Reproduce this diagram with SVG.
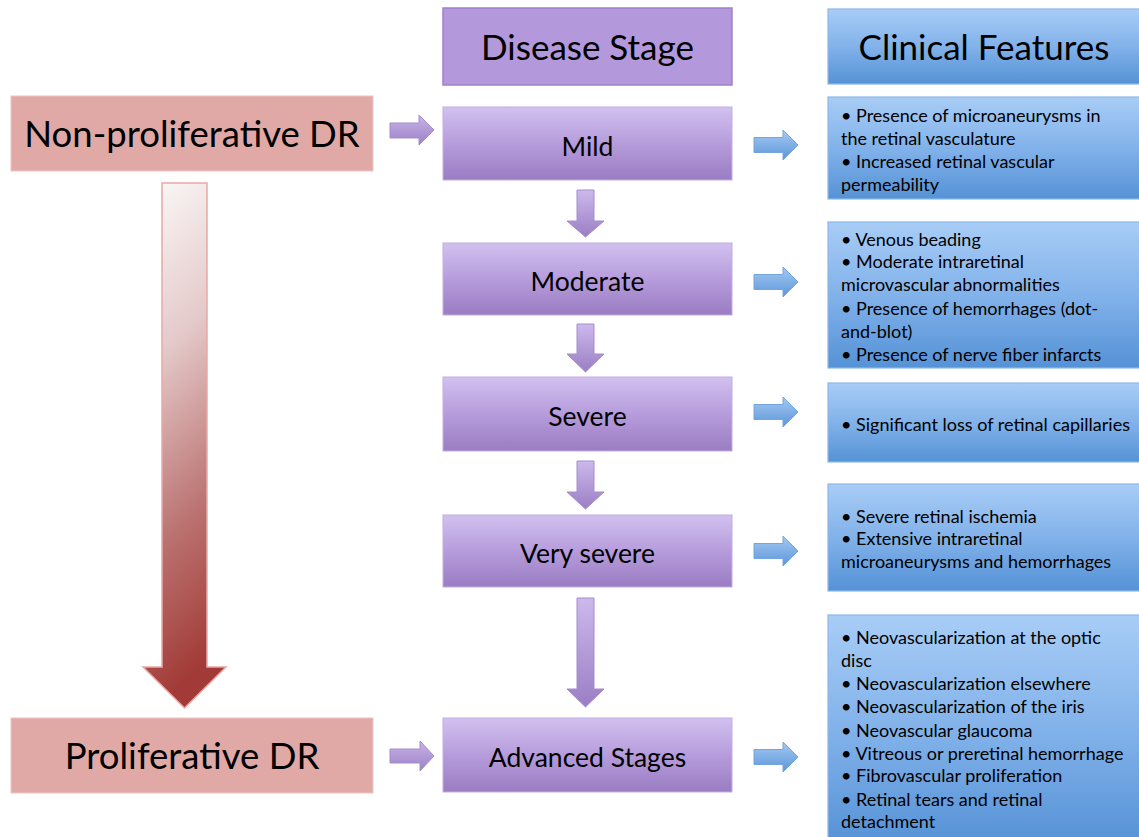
<svg xmlns="http://www.w3.org/2000/svg" width="1139" height="837" viewBox="0 0 1139 837">
<defs>
  <linearGradient id="gStage" x1="0" y1="0" x2="0" y2="1">
    <stop offset="0" stop-color="#D2C1EF"/>
    <stop offset="0.5" stop-color="#B69CDC"/>
    <stop offset="1" stop-color="#9A7CC2"/>
  </linearGradient>
  <linearGradient id="gBlue" x1="0" y1="0" x2="0" y2="1">
    <stop offset="0" stop-color="#A8CDF6"/>
    <stop offset="0.5" stop-color="#82B2EA"/>
    <stop offset="1" stop-color="#5592D6"/>
  </linearGradient>
  <linearGradient id="gPArrow" x1="0" y1="0" x2="0" y2="1">
    <stop offset="0" stop-color="#CDB9EC"/>
    <stop offset="1" stop-color="#9A7EC4"/>
  </linearGradient>
  <linearGradient id="gPArrowH" x1="0" y1="0" x2="0" y2="1">
    <stop offset="0" stop-color="#C8B3E8"/>
    <stop offset="1" stop-color="#9C80C6"/>
  </linearGradient>
  <linearGradient id="gBArrow" x1="0" y1="0" x2="0" y2="1">
    <stop offset="0" stop-color="#A5C9F3"/>
    <stop offset="1" stop-color="#5C96D9"/>
  </linearGradient>
  <linearGradient id="gBig" x1="0" y1="0" x2="0.15" y2="1">
    <stop offset="0" stop-color="#FCFAFA"/>
    <stop offset="0.35" stop-color="#E4C9C9"/>
    <stop offset="0.7" stop-color="#BB7472"/>
    <stop offset="1" stop-color="#A23B37"/>
  </linearGradient>
  <style>
    .pink{fill:#E0A9A6;stroke:#EDC4C2;stroke-width:1}
    .stage{fill:url(#gStage);stroke:#C2AEE3;stroke-width:1}
    .stagehdr{fill:#B398DB;stroke:#A27FCB;stroke-width:1.5}
    .clin{fill:url(#gBlue);stroke:#8DB7E9;stroke-width:1.2}
    .parrow{fill:url(#gPArrow);stroke:#A58DCB;stroke-width:1}
    .parrowh{fill:url(#gPArrowH);stroke:#A58DCB;stroke-width:1}
    .barrow{fill:url(#gBArrow);stroke:#74A5DC;stroke-width:1}
    text{font-family:Lato,"Liberation Sans",sans-serif;fill:#000}
    .big{font-size:36.5px}
    .hdr{font-size:35px}
    .st{font-size:26.5px}
    .cf{font-size:18px}
  </style>
</defs>

<g id="connectors">
  <path id="bigArrow" d="M162,183 H207 V667 H226 L184.5,708 L143,667 H162 Z" fill="url(#gBig)" stroke="#E7A9A7" stroke-width="1.5"/>
  <path class="parrowh" d="M390,123 H419 V115 L434,130 L419,145 V138 H390 Z"/>
  <path class="parrowh" d="M390,749 H420 V741 L434,756 L420,771 V763 H390 Z"/>
  <path class="parrow" d="M577,190 H594 V221 H604 L585.5,237 L567,221 H577 Z"/>
  <path class="parrow" d="M577,324 H594 V354 H604 L585.5,372 L567,354 H577 Z"/>
  <path class="parrow" d="M577,461 H594 V492 H604 L585.5,509 L567,492 H577 Z"/>
  <path class="parrow" d="M577,598 H594 V689 H604 L585.5,707 L567,689 H577 Z"/>
  <path class="barrow" d="M754,137.5 H783 V130 L798,145 L783,160 V152.5 H754 Z"/>
  <path class="barrow" d="M754,274.5 H783 V267 L798,282 L783,297 V289.5 H754 Z"/>
  <path class="barrow" d="M754,404.5 H783 V397 L798,412 L783,427 V419.5 H754 Z"/>
  <path class="barrow" d="M754,543.5 H783 V536 L798,551 L783,566 V558.5 H754 Z"/>
  <path class="barrow" d="M754,749.5 H783 V742 L798,757 L783,772 V764.5 H754 Z"/>
</g>

<g id="nonProliferative">
  <rect class="pink" x="11" y="96" width="362" height="75"/>
  <text class="big" x="192" y="147" text-anchor="middle">Non-proliferative DR</text>
</g>
<g id="proliferative">
  <rect class="pink" x="11" y="718" width="362" height="75"/>
  <text class="big" x="192" y="769" text-anchor="middle">Proliferative DR</text>
</g>

<g id="diseaseStage">
  <rect class="stagehdr" x="443" y="8" width="289" height="77"/>
  <text class="hdr" x="587.5" y="60" text-anchor="middle">Disease Stage</text>
</g>
<g id="mild">
  <rect class="stage" x="443" y="107" width="289" height="73"/>
  <text class="st" x="587.5" y="156" text-anchor="middle">Mild</text>
</g>
<g id="moderate">
  <rect class="stage" x="443" y="243" width="289" height="72"/>
  <text class="st" x="587.5" y="291" text-anchor="middle">Moderate</text>
</g>
<g id="severe">
  <rect class="stage" x="443" y="377" width="289" height="74"/>
  <text class="st" x="587.5" y="426" text-anchor="middle">Severe</text>
</g>
<g id="verySevere">
  <rect class="stage" x="443" y="515" width="289" height="72"/>
  <text class="st" x="587.5" y="563" text-anchor="middle">Very severe</text>
</g>
<g id="advanced">
  <rect class="stage" x="443" y="718" width="289" height="74"/>
  <text class="st" x="587.5" y="767" text-anchor="middle">Advanced Stages</text>
</g>

<g id="clinicalFeatures">
  <rect class="clin" x="828" y="9" width="312" height="75"/>
  <text class="hdr" x="984" y="60" text-anchor="middle">Clinical Features</text>
</g>
<g id="cfMild">
  <rect class="clin" x="828" y="97" width="312" height="102"/>
  <text class="cf" x="841"><tspan x="841" y="122">• Presence of microaneurysms in</tspan><tspan x="841" y="145">the retinal vasculature</tspan><tspan x="841" y="168">• Increased retinal vascular</tspan><tspan x="841" y="191">permeability</tspan></text>
</g>
<g id="cfModerate">
  <rect class="clin" x="828" y="222" width="312" height="146"/>
  <text class="cf" x="841"><tspan x="841" y="246">• Venous beading</tspan><tspan x="841" y="268">• Moderate intraretinal</tspan><tspan x="841" y="291">microvascular abnormalities</tspan><tspan x="841" y="315">• Presence of hemorrhages (dot-</tspan><tspan x="841" y="338">and-blot)</tspan><tspan x="841" y="361">• Presence of nerve fiber infarcts</tspan></text>
</g>
<g id="cfSevere">
  <rect class="clin" x="828" y="383" width="312" height="79"/>
  <text class="cf" x="841" y="431">• Significant loss of retinal capillaries</text>
</g>
<g id="cfVerySevere">
  <rect class="clin" x="828" y="484" width="312" height="107"/>
  <text class="cf" x="841"><tspan x="841" y="523">• Severe retinal ischemia</tspan><tspan x="841" y="545">• Extensive intraretinal</tspan><tspan x="841" y="568">microaneurysms and hemorrhages</tspan></text>
</g>
<g id="cfAdvanced">
  <rect class="clin" x="828" y="615" width="312" height="230"/>
  <text class="cf" x="841"><tspan x="841" y="644">• Neovascularization at the optic</tspan><tspan x="841" y="667">disc</tspan><tspan x="841" y="690">• Neovascularization elsewhere</tspan><tspan x="841" y="713">• Neovascularization of the iris</tspan><tspan x="841" y="737">• Neovascular glaucoma</tspan><tspan x="841" y="760">• Vitreous or preretinal hemorrhage</tspan><tspan x="841" y="782">• Fibrovascular proliferation</tspan><tspan x="841" y="806">• Retinal tears and retinal</tspan><tspan x="841" y="828">detachment</tspan></text>
</g>
</svg>
